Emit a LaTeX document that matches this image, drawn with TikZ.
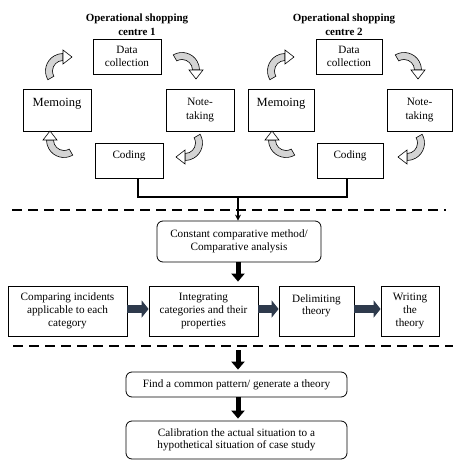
\documentclass[tikz,border=0pt]{standalone}
\usepackage{fontspec}
\setmainfont{Liberation Serif}
\usetikzlibrary{arrows.meta,calc}
\definecolor{bandgray}{HTML}{D4D4D4}
\definecolor{slate}{HTML}{2E3A4C}
\tikzset{
  box/.style={draw,line width=0.8pt,inner sep=0pt,align=center,font=\fontsize{11.2}{12.5}\selectfont},
  rbox/.style={box,rounded corners=6pt},
  ttl/.style={align=center,font=\bfseries\fontsize{11}{14}\selectfont,inner sep=0pt},
  conn/.style={line width=1.5pt},
  fat/.style={line width=5pt,-{Triangle[width=13pt,length=8pt]}},
  blk/.style={line width=8pt,slate,-{Triangle[width=17pt,length=7pt]}},
  dline/.style={line width=1.6pt,dash pattern=on 10pt off 6pt},
  cyc/.pic={
    \filldraw[fill=bandgray,line width=0.6pt] (120:17.5) arc[start angle=120,end angle=0,radius=17.5] -- (10.5,0) arc[start angle=0,end angle=120,radius=10.5] -- cycle;
    \filldraw[fill=white,line width=0.6pt] (7,0) -- (21,0) -- (14,-9) -- cycle;
  }
}
\begin{document}
\begin{tikzpicture}[x=1pt,y=1pt]
\useasboundingbox (0,0) rectangle (474,-471);
% titles
\node[ttl] (t1) at (137,-25) {Operational shopping\\centre 1};
\node[ttl] (t2) at (344,-25) {Operational shopping\\centre 2};
% cycle 1
\node[box,minimum width=68pt,minimum height=35pt] (dc1) at (127,-56.5) {Data\\collection};
\node[box,minimum width=68pt,minimum height=42pt,font=\fontsize{12.5}{15}\selectfont] (me1) at (57,-110) {Memoing\\\mbox{}};
\node[box,minimum width=68pt,minimum height=42pt,font=\fontsize{11.2}{14.5}\selectfont] (nt1) at (200,-110) {Note-\\taking};
\node[box,minimum width=68pt,minimum height=35pt] (co1) at (129,-160.5) {Coding\\\mbox{}};
% cycle 2
\node[box,minimum width=66pt,minimum height=35pt] (dc2) at (349,-56.5) {Data\\collection};
\node[box,minimum width=66pt,minimum height=42pt,font=\fontsize{12.5}{15}\selectfont] (me2) at (281,-110) {Memoing\\\mbox{}};
\node[box,minimum width=65pt,minimum height=42pt,font=\fontsize{11.2}{14.5}\selectfont] (nt2) at (419.5,-110) {Note-\\taking};
\node[box,minimum width=66pt,minimum height=35pt] (co2) at (350,-160.5) {Coding\\\mbox{}};
% curved cycle arrows
\foreach \dx in {0,222}{
  \pic[rotate=0]   at ({182+\dx},-70)  {cyc};
  \pic[rotate=-90] at ({185+\dx},-143) {cyc};
  \pic[rotate=180] at ({64+\dx},-140)  {cyc};
  \pic[rotate=90]  at ({63+\dx},-71)   {cyc};
}
% joins
\coordinate (j1) at (138,-197);
\coordinate (j2) at (347,-197);
\coordinate (jm) at (238,-197);
\draw[conn] (co1.south -| j1) -- (j1) -- (j2) -- (co2.south -| j2);
% dashed separators
\draw[dline] (12,-210) -- (446,-210);
\draw[dline] (13,-346) -- (453,-346);
% comparative
\node[rbox,minimum width=164pt,minimum height=41pt] (cc) at (239,-241.5) {Constant comparative method/\\Comparative analysis};
\draw[conn,-{Stealth[length=6pt,width=6pt]}] (jm) -- (cc.north -| jm);
% row
\node[box,minimum width=119pt,minimum height=50pt,font=\fontsize{11.2}{12.8}\selectfont] (r1) at (67.5,-311) {Comparing incidents\\applicable to each\\category};
\node[box,minimum width=109pt,minimum height=50pt,font=\fontsize{11.2}{12.8}\selectfont] (r2) at (203.5,-311) {Integrating\\categories and their\\properties};
\node[box,minimum width=75pt,minimum height=50pt,font=\fontsize{11.2}{12.8}\selectfont] (r3) at (316.5,-311) {Delimiting\\theory\\\mbox{}};
\node[box,minimum width=58pt,minimum height=50pt,font=\fontsize{11.2}{12.8}\selectfont] (r4) at (410,-311) {Writing\\the\\theory};
\draw[fat,shorten >=4pt] (cc.south -| jm) -- (r2.north -| jm);
\draw[blk] ([yshift=2pt]r1.east) -- ([yshift=2pt]r2.west);
\draw[blk] ([yshift=2pt]r2.east) -- ([yshift=2pt]r3.west);
\draw[blk] ([yshift=2pt]r3.east) -- ([yshift=2pt]r4.west);
% bottom
\node[rbox,minimum width=221pt,minimum height=25pt] (fp) at (236.5,-384.5) {Find a common pattern/ generate a theory};
\node[rbox,minimum width=221pt,minimum height=38pt] (cal) at (236.5,-440) {Calibration the actual situation to a\\hypothetical situation of case study};
\coordinate (s3) at (238,-350);
\draw[fat,shorten >=2pt] (s3) -- (fp.north -| s3);
\draw[fat,shorten >=2pt] (fp.south -| s3) -- (cal.north -| s3);
\end{tikzpicture}
\end{document}
